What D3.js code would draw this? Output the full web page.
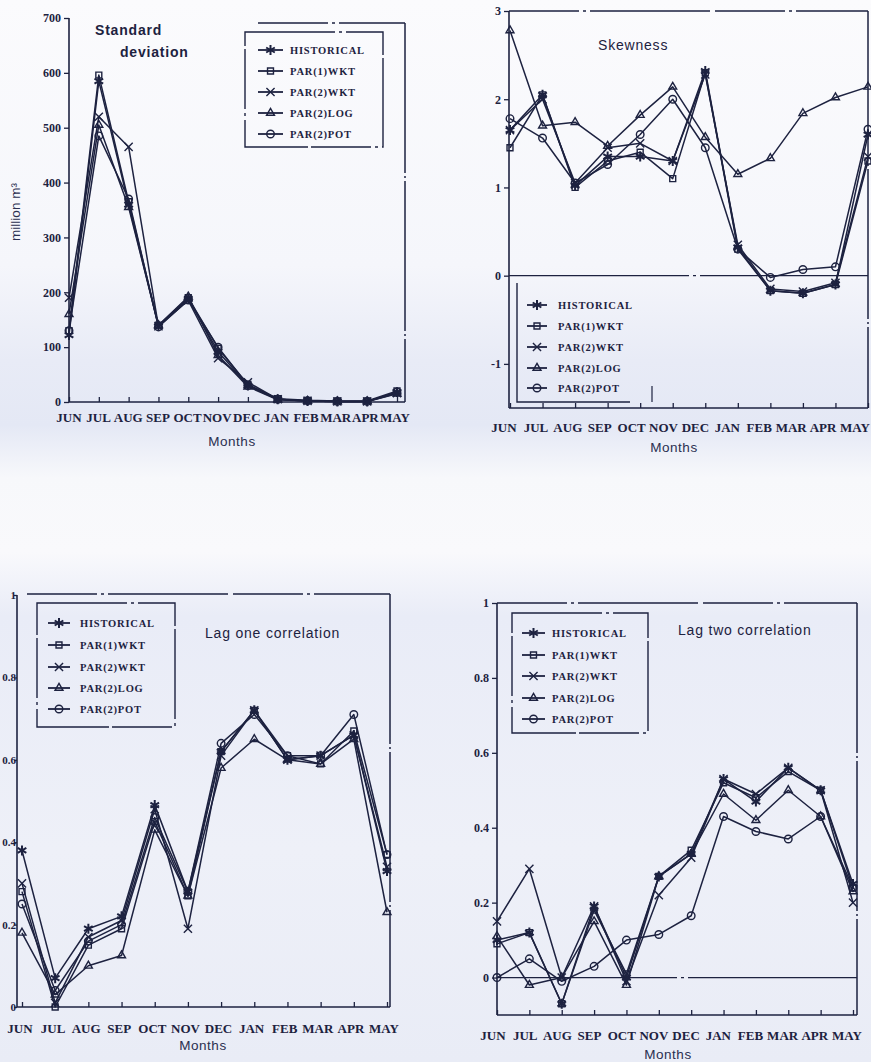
<!DOCTYPE html>
<html>
<head>
<meta charset="utf-8">
<script src="https://cdn.jsdelivr.net/npm/d3@7"></script>
<style>
  html, body { margin: 0; padding: 0; background: #f6f7fb; }
  svg { display: block; }
  .tick text { font-family: "Liberation Serif", serif; font-weight: bold; font-size: 12px; fill: #1d2240; }
  .month { font-family: "Liberation Serif", serif; font-weight: bold; font-size: 13px; fill: #1d2240; }
  .lgd { font-family: "Liberation Serif", serif; font-weight: bold; font-size: 10.5px; letter-spacing: 0.8px; fill: #1d2240; }
  .ttl { font-family: "Liberation Sans", sans-serif; font-size: 14px; letter-spacing: 0.8px; fill: #1d2240; }
  .axt { font-family: "Liberation Sans", sans-serif; font-size: 13.5px; fill: #2a2f50; }
</style>
</head>
<body>
<svg id="chart" width="871" height="1062"></svg>
<script>
const months = ["JUN", "JUL", "AUG", "SEP", "OCT", "NOV", "DEC", "JAN", "FEB", "MAR", "APR", "MAY"];
const seriesNames = ["HISTORICAL", "PAR(1)WKT", "PAR(2)WKT", "PAR(2)LOG", "PAR(2)POT"];

// standard deviation, million m3
const stdHistorical = [122, 585, 360, 138, 188, 92, 30, 5, 2, 1, 1, 18];
const stdPar1Wkt    = [130, 596, 365, 140, 190, 98, 32, 6, 3, 2, 2, 20];
const stdPar2Wkt    = [190, 520, 465, 138, 185, 80, 36, 5, 2, 1, 1, 16];
const stdPar2Log    = [160, 505, 355, 140, 192, 85, 28, 4, 2, 1, 1, 15];
const stdPar2Pot    = [130, 485, 370, 137, 186, 100, 30, 5, 2, 1, 1, 18];
const stdTicks = [0, 100, 200, 300, 400, 500, 600, 700];

// skewness
const skwHistorical = [1.65, 2.05, 1.02, 1.35, 1.35, 1.3, 2.32, 0.32, -0.17, -0.2, -0.1, 1.6];
const skwPar1Wkt    = [1.45, 2.05, 1.0, 1.3, 1.4, 1.1, 2.3, 0.3, -0.17, -0.2, -0.1, 1.3];
const skwPar2Wkt    = [1.65, 2.0, 1.05, 1.45, 1.5, 1.3, 2.28, 0.35, -0.15, -0.18, -0.08, 1.35];
const skwPar2Log    = [2.78, 1.7, 1.74, 1.47, 1.82, 2.14, 1.57, 1.15, 1.33, 1.84, 2.02, 2.14];
const skwPar2Pot    = [1.78, 1.56, 1.05, 1.26, 1.6, 2.0, 1.45, 0.3, -0.02, 0.07, 0.1, 1.66];
const skwTicks = [-1, 0, 1, 2, 3];

// lag one correlation
const l1Historical = [0.38, 0.07, 0.19, 0.22, 0.49, 0.28, 0.62, 0.72, 0.6, 0.61, 0.66, 0.33];
const l1Par1Wkt    = [0.28, 0.0, 0.15, 0.19, 0.45, 0.27, 0.62, 0.72, 0.61, 0.59, 0.67, 0.37];
const l1Par2Wkt    = [0.3, 0.01, 0.17, 0.21, 0.48, 0.19, 0.61, 0.72, 0.6, 0.61, 0.66, 0.34];
const l1Par2Log    = [0.18, 0.03, 0.1, 0.125, 0.43, 0.27, 0.58, 0.65, 0.6, 0.59, 0.65, 0.23];
const l1Par2Pot    = [0.25, 0.04, 0.16, 0.2, 0.46, 0.28, 0.64, 0.71, 0.61, 0.61, 0.71, 0.37];
const l1Ticks = [0, 0.2, 0.4, 0.6, 0.8, 1];

// lag two correlation
const l2Historical = [0.1, 0.12, -0.07, 0.19, 0.0, 0.27, 0.33, 0.53, 0.47, 0.56, 0.5, 0.25];
const l2Par1Wkt    = [0.09, 0.12, -0.07, 0.18, 0.01, 0.27, 0.34, 0.52, 0.48, 0.55, 0.5, 0.24];
const l2Par2Wkt    = [0.15, 0.29, 0.0, 0.19, -0.01, 0.22, 0.32, 0.53, 0.49, 0.56, 0.5, 0.2];
const l2Par2Log    = [0.11, -0.02, 0.0, 0.15, -0.02, 0.27, 0.33, 0.49, 0.42, 0.5, 0.43, 0.23];
const l2Par2Pot    = [0.0, 0.05, -0.01, 0.03, 0.1, 0.115, 0.165, 0.43, 0.39, 0.37, 0.43, 0.24];
const l2Ticks = [0, 0.2, 0.4, 0.6, 0.8, 1];

const ink = "#1d2240";
const symbols = [d3.symbolAsterisk, d3.symbolSquare2, d3.symbolTimes, d3.symbolTriangle2, d3.symbolCircle];

const svg = d3.select("#chart");

// scanned paper tint
const defs = svg.append("defs");
const grad = defs.append("linearGradient").attr("id", "paper")
  .attr("x1", 0).attr("y1", 0).attr("x2", 0).attr("y2", 1);
[[0, "#fbfbfd"], [0.25, "#f5f6fb"], [0.34, "#e8ebf6"], [0.4, "#e4e8f5"], [0.45, "#f7f8fb"],
 [0.52, "#f9f9fc"], [0.58, "#e9ecf7"], [0.8, "#eef0f8"], [1, "#e9ecf6"]]
  .forEach(s => grad.append("stop").attr("offset", s[0]).attr("stop-color", s[1]));
svg.append("rect").attr("width", 871).attr("height", 1062).attr("fill", "url(#paper)");

const panels = [
  {
    series: [stdHistorical, stdPar1Wkt, stdPar2Wkt, stdPar2Log, stdPar2Pot],
    ticks: stdTicks, yDomain: [0, 700], yRange: [402, 18],
    xRange: [69, 397], labelRange: [69, 395],
    frame: { left: 69, right: 405, top: 23, bottom: 402, topStart: 258 },
    monthY: 422, monthsX: 232, monthsY: 446,
    titles: [{ t: "Standard", x: 95, y: 35 }, { t: "deviation", x: 120, y: 57 }], titleBold: true,
    legend: { box: [245, 32, 383, 147], rows: [50, 71, 92, 113, 134], sx: [258, 283], tx: 290, sides: "all" },
    yTitle: { t: "million m³", x: 20, y: 212 }
  },
  {
    series: [skwHistorical, skwPar1Wkt, skwPar2Wkt, skwPar2Log, skwPar2Pot],
    ticks: skwTicks, yDomain: [-1.5, 3], yRange: [408, 11],
    xRange: [510, 868], labelRange: [504, 855],
    frame: { left: 509, right: 868, top: 11, bottom: 408, topStart: 509 },
    zero: true,
    monthY: 432, monthsX: 674, monthsY: 452,
    titles: [{ t: "Skewness", x: 598, y: 50 }],
    legend: { box: [517, 283, 652, 402], rows: [305, 326, 347, 368, 388], sx: [527, 547], tx: 558, sides: "lb" }
  },
  {
    series: [l1Historical, l1Par1Wkt, l1Par2Wkt, l1Par2Log, l1Par2Pot],
    ticks: l1Ticks, yDomain: [0, 1], yRange: [1007, 595],
    xRange: [22, 387], labelRange: [20, 384],
    frame: { left: 17, right: 390, top: 594, bottom: 1007, topStart: 27 },
    tickFont: 11, tickPad: -2, tickLen: 3,
    monthY: 1033, monthsX: 203, monthsY: 1050,
    titles: [{ t: "Lag one correlation", x: 205, y: 638 }],
    legend: { box: [37, 603, 175, 727], rows: [623, 645, 667, 688, 709], sx: [48, 70], tx: 80, sides: "all" }
  },
  {
    series: [l2Historical, l2Par1Wkt, l2Par2Wkt, l2Par2Log, l2Par2Pot],
    ticks: l2Ticks, yDomain: [-0.1, 1], yRange: [1015, 603],
    xRange: [497, 853], labelRange: [493, 847],
    frame: { left: 497, right: 857, top: 603, bottom: 1015, topStart: 497 },
    zero: true,
    monthY: 1040, monthsX: 668, monthsY: 1059,
    titles: [{ t: "Lag two correlation", x: 678, y: 635 }],
    legend: { box: [512, 613, 648, 733], rows: [633, 655, 676, 698, 719], sx: [522, 545], tx: 552, sides: "all" }
  }
];

function marker(sel, i, x, y) {
  sel.append("path")
    .attr("d", d3.symbol(symbols[i], i === 0 ? 70 : 45)())
    .attr("transform", "translate(" + x + "," + y + ")")
    .attr("fill", i === 0 ? ink : "none")
    .attr("stroke", ink)
    .attr("stroke-width", i === 0 ? 2 : 1.4);
}

panels.forEach(p => {
  const g = svg.append("g");
  const x = d3.scalePoint().domain(months).range(p.xRange);
  const xl = d3.scalePoint().domain(months).range(p.labelRange);
  const y = d3.scaleLinear().domain(p.yDomain).range(p.yRange);
  const f = p.frame;

  // frame: top and right borders look broken in the scan
  g.append("line").attr("x1", f.topStart).attr("x2", f.right).attr("y1", f.top).attr("y2", f.top)
    .attr("stroke", ink).attr("stroke-width", 1.5).attr("stroke-dasharray", "70,4,3,4,120,5");
  g.append("line").attr("x1", f.right).attr("x2", f.right).attr("y1", f.top).attr("y2", f.bottom)
    .attr("stroke", ink).attr("stroke-width", 1.5).attr("stroke-dasharray", "150,3,2,3");
  if (p.zero) {
    g.append("line").attr("x1", f.left).attr("x2", f.right).attr("y1", y(0)).attr("y2", y(0))
      .attr("stroke", ink).attr("stroke-width", 1.3).attr("stroke-dasharray", "180,4,3,4");
  }

  // y axis
  const ya = g.append("g").attr("transform", "translate(" + f.left + ",0)")
    .call(d3.axisLeft(y).tickValues(p.ticks).tickSize(p.tickLen || 5).tickSizeOuter(0)
      .tickPadding(p.tickPad !== undefined ? p.tickPad : 3).tickFormat(d => String(d)));
  ya.select(".domain").attr("stroke", ink).attr("stroke-width", 1.6)
    .attr("d", "M0," + f.bottom + "V" + p.yRange[1]);
  ya.selectAll(".tick line").attr("stroke", ink).attr("stroke-width", 1.3);
  if (p.tickFont) ya.selectAll(".tick text").style("font-size", p.tickFont + "px");

  // x axis with inward ticks, labels placed separately
  const xa = g.append("g").attr("transform", "translate(0," + f.bottom + ")")
    .call(d3.axisBottom(x).tickSize(-5).tickSizeOuter(0).tickFormat(""));
  xa.select(".domain").attr("stroke", ink).attr("stroke-width", 1.6)
    .attr("d", "M" + f.left + ",0H" + f.right);
  xa.selectAll(".tick line").attr("stroke", ink).attr("stroke-width", 1.3);

  g.selectAll(".month").data(months).join("text")
    .attr("class", "month")
    .attr("x", d => xl(d)).attr("y", p.monthY)
    .attr("text-anchor", "middle")
    .text(d => d);
  g.append("text").attr("class", "axt").attr("x", p.monthsX).attr("y", p.monthsY)
    .attr("text-anchor", "middle").attr("letter-spacing", 0.5).text("Months");

  if (p.yTitle) {
    g.append("text").attr("class", "axt").attr("font-size", 15)
      .attr("transform", "translate(" + p.yTitle.x + "," + p.yTitle.y + ") rotate(-90)")
      .attr("text-anchor", "middle").text(p.yTitle.t);
  }

  p.titles.forEach(t => {
    g.append("text").attr("class", "ttl").attr("x", t.x).attr("y", t.y)
      .attr("font-weight", p.titleBold ? "bold" : "normal")
      .attr("font-size", p.titleBold ? 14 : 15)
      .text(t.t);
  });

  // series
  const line = d3.line().x((d, i) => x(months[i])).y(d => y(d));
  p.series.forEach((s, i) => {
    g.append("path").datum(s).attr("d", line)
      .attr("fill", "none").attr("stroke", ink).attr("stroke-width", 1.5)
      .attr("stroke-linejoin", "round");
  });
  p.series.forEach((s, i) => {
    s.forEach((v, j) => marker(g, i, x(months[j]), y(v)));
  });

  // legend
  const L = p.legend, b = L.box;
  const lg = g.append("g");
  if (L.sides === "all") {
    lg.append("rect").attr("x", b[0]).attr("y", b[1]).attr("width", b[2] - b[0]).attr("height", b[3] - b[1])
      .attr("fill", "none").attr("stroke", ink).attr("stroke-width", 1.4)
      .attr("stroke-dasharray", "90,4,3,4,60,3");
  } else {
    lg.append("path").attr("d", "M" + b[0] + "," + b[1] + "V" + b[3] + "H" + (b[2] - 22))
      .attr("fill", "none").attr("stroke", ink).attr("stroke-width", 1.4);
    lg.append("line").attr("x1", b[2]).attr("x2", b[2]).attr("y1", b[3] - 16).attr("y2", b[3])
      .attr("stroke", ink).attr("stroke-width", 1.2);
  }
  seriesNames.forEach((name, i) => {
    const ry = L.rows[i];
    lg.append("line").attr("x1", L.sx[0]).attr("x2", L.sx[1]).attr("y1", ry).attr("y2", ry)
      .attr("stroke", ink).attr("stroke-width", 1.8);
    marker(lg, i, (L.sx[0] + L.sx[1]) / 2, ry);
    lg.append("text").attr("class", "lgd").attr("x", L.tx).attr("y", ry + 4).text(name);
  });
});
</script>
</body>
</html>
